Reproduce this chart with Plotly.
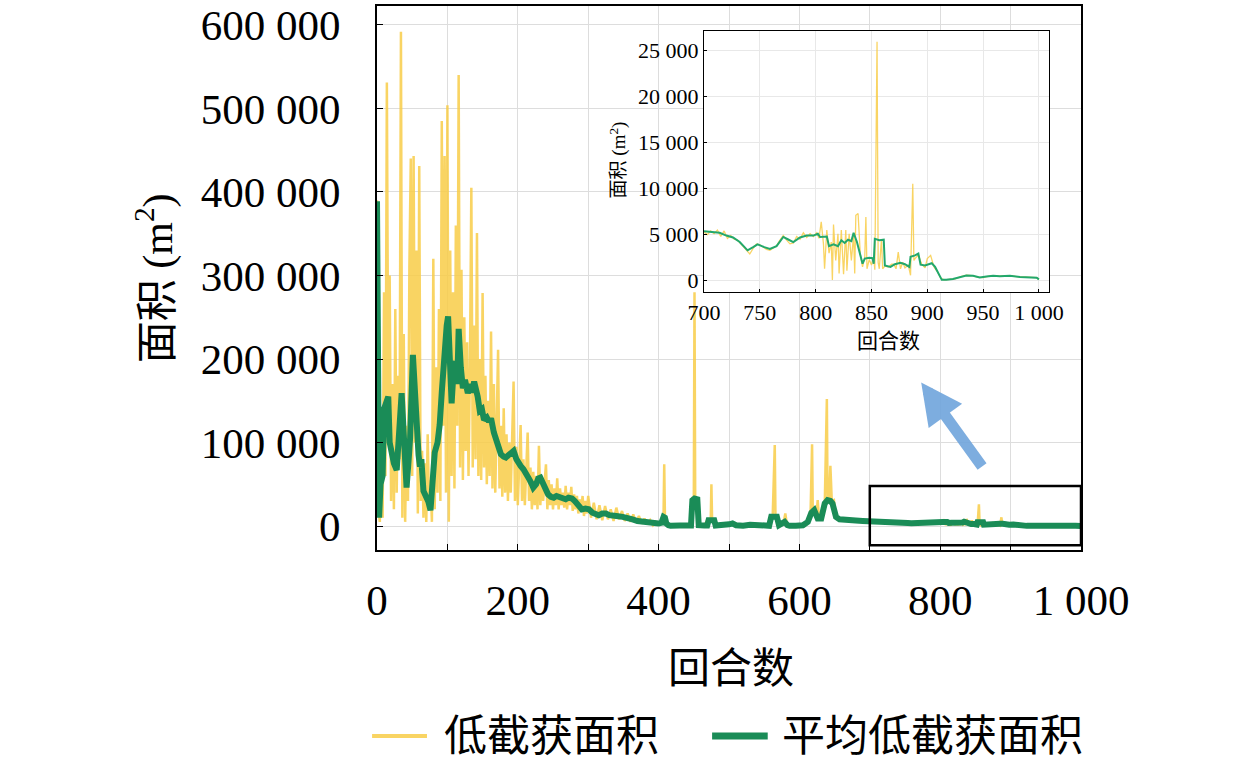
import plotly.graph_objects as go

# 低截获面积（生データ）: 回合 0-102, 2 回合ごと
low_rounds_a = list(range(0, 104, 2))
low_area_a = [390000, 20000, 5000, 120000, 10000, 280000, 60000, 531000, 150000, 300000,
              30000, 170000, 20000, 260000, 40000, 180000, 80000, 592000, 10000, 230000,
              5000, 120000, 30000, 310000, 440000, 60000, 443000, 100000, 330000, 15000,
              431000, 30000, 90000, 10000, 75000, 5000, 110000, 20000, 55000, 5000,
              320000, 20000, 190000, 40000, 260000, 30000, 485000, 120000, 443000, 40000,
              504000, 5000]

# 回合 104-300
low_rounds_b = list(range(104, 302, 2))
low_area_b = [330000, 60000, 280000, 45000, 360000, 120000, 540000, 70000, 307000, 55000,
              250000, 90000, 220000, 60000, 190000, 405000, 70000, 240000, 80000, 351000,
              60000, 200000, 55000, 279000, 70000, 180000, 50000, 150000, 60000, 233000,
              45000, 170000, 40000, 140000, 211000, 45000, 120000, 35000, 141000, 40000,
              110000, 30000, 100000, 40000, 130000, 173000, 30000, 95000, 25000, 90000,
              121000, 30000, 80000, 25000, 75000, 112000, 30000, 70000, 20000, 65000,
              25000, 60000, 20000, 96000, 25000, 60000, 30000, 55000, 74000, 20000,
              55000, 25000, 50000, 20000, 45000, 25000, 57000, 20000, 45000, 25000,
              40000, 22000, 48000, 20000, 40000, 25000, 47000, 18000, 38000, 20000,
              36000, 15000, 32000, 18000, 36000, 12000, 30000, 15000, 36000]

# 回合 304-400
low_rounds_c = list(range(304, 404, 4))
low_area_c = [10000, 28000, 8000, 25000, 7000, 24000, 8000, 20000, 6000, 22000,
              8000, 18000, 6000, 15000, 5000, 14000, 4000, 12000, 3000, 9000,
              2000, 7000, 1000, 5000, 2000]

# 回合 400-700
low_rounds_d = [402, 405, 407, 408, 409, 411, 415, 420, 430, 440,
                446, 448, 450, 451, 452, 455, 457, 465, 470, 474,
                475, 476, 479, 482, 490, 500, 505, 515, 530, 545,
                555, 559, 562, 565, 566, 569, 572, 578, 580, 582,
                590, 600, 610, 614, 616, 618, 619, 622, 624, 626,
                628, 632, 636, 639, 640, 642, 644, 646, 649, 651,
                654, 660, 670, 680, 690]
low_area_d = [4000, 6000, 12000, 74000, 10000, 3000, 1000, 500, 1000, 500,
              2000, 35000, 30000, 280000, 32000, 30000, 2000, 1000, 8000, 5000,
              50000, 7000, 6000, 1000, 500, 2000, 3000, 500, 2000, 1000,
              1000, 12000, 10000, 97000, 12000, 9000, 1000, 6000, 15000, 3000,
              500, 1000, 2000, 12000, 20000, 98000, 18000, 15000, 10000, 31000,
              8000, 12000, 25000, 152000, 30000, 28000, 72000, 30000, 31000, 15000,
              8000, 7000, 6800, 6500, 6000]

# 回合 700-1000
low_rounds_e = [700, 703, 706, 709, 712, 715, 718, 721, 724, 727,
                730, 733, 736, 739, 741, 744, 747, 750, 753, 756,
                759, 762, 765, 768, 771, 774, 777, 780, 783, 786,
                789, 792, 795, 798, 801, 803, 805, 807, 808, 810,
                812, 814, 815, 816, 818, 820, 821, 823, 825, 827,
                828, 830, 832, 834, 835, 836, 838, 840, 842, 844,
                845, 846, 848, 850, 852, 853, 855, 856, 857, 859,
                860, 862, 865, 868, 870, 872, 874, 876, 878, 880,
                883, 885, 887, 888, 889, 892, 895, 898, 900, 903,
                906, 909, 912, 915, 920, 925, 930, 935, 940, 945,
                950, 955, 960, 965, 970, 975, 980, 985, 990, 995,
                998, 1000]
low_area_e = [5300, 5000, 5400, 5100, 5500, 4800, 5400, 4600, 4900, 4500,
              4400, 4000, 3600, 3200, 2900, 3500, 4000, 3900, 3600, 3400,
              3300, 3600, 3800, 4400, 4900, 4400, 4000, 4100, 4800, 4500,
              5200, 4700, 5100, 4800, 5200, 4600, 6400, 4000, 1300, 5500,
              3000, 4200, 100, 6100, 2200, 5100, 800, 5500, 700, 5500,
              1100, 5100, 2200, 5000, 800, 7100, 7300, 2900, 1500, 2600,
              6900, 1300, 2300, 1700, 2600, 1200, 25900, 2000, 1300, 4500,
              1300, 1600, 1500, 1800, 1800, 1300, 3100, 1300, 2000, 1400,
              1700, 600, 10500, 2200, 2400, 2800, 1800, 1400, 2400, 2750,
              1500, 1000, 300, 100, 150, 200, 450, 600, 550, 400,
              350, 500, 550, 500, 550, 550, 450, 400, 350, 300,
              350, 150]

# 平均低截获面积: 回合 0-690
avg_rounds_a = [0, 3, 5, 8, 10, 13, 16, 18, 21, 24,
                28, 31, 35, 38, 42, 45, 47, 51, 54, 56,
                59, 61, 63, 66, 70, 73, 76, 79, 82, 86,
                89, 92, 96, 99, 101, 104, 106, 109, 112, 114,
                116, 119, 122, 125, 129, 132, 135, 138, 141, 143,
                146, 149, 152, 156, 159, 162, 166, 169, 172, 176,
                180, 183, 187, 191, 194, 198, 201, 204, 208, 213,
                217, 220, 222, 226, 229, 232, 235, 239, 243, 247,
                251, 255, 259, 263, 268, 272, 277, 281, 284, 288,
                291, 296, 301, 306, 311, 315, 320, 325, 330, 334,
                340, 349, 356, 363, 370, 377, 384, 391, 396, 400,
                404, 407, 409, 411, 414, 417, 430, 440, 446, 448,
                451, 455, 457, 465, 469, 471, 479, 481, 490, 500,
                505, 510, 520, 530, 543, 550, 557, 560, 568, 571,
                575, 579, 583, 586, 595, 605, 612, 617, 621, 624,
                626, 631, 636, 640, 644, 647, 650, 652, 657, 665,
                680, 690]
avg_area_a = [389000, 10000, 50000, 60000, 140000, 150000, 155000, 100000, 84000, 75000,
              67000, 120000, 159000, 110000, 46000, 80000, 105000, 205000, 160000, 100000,
              85000, 71000, 80000, 42000, 35000, 29000, 19000, 50000, 88000, 100000,
              121000, 160000, 218000, 240000, 251000, 200000, 147000, 190000, 197000, 170000,
              236000, 190000, 165000, 175000, 159000, 170000, 160000, 173000, 165000, 155000,
              138000, 140000, 127000, 130000, 125000, 129000, 112000, 105000, 95000, 86000,
              83000, 82000, 85000, 88000, 90000, 80000, 74000, 72000, 68000, 62000,
              55000, 50000, 46000, 50000, 57000, 58000, 52000, 42000, 38000, 35000,
              34000, 36000, 35000, 33000, 32000, 34000, 33000, 30000, 26000, 22000,
              20000, 21000, 20000, 16000, 14000, 13000, 15000, 15000, 13000, 12000,
              12000, 11000, 10000, 8000, 6000, 5000, 4000, 3000, 2000, 3000,
              4000, 11000, 10000, 3000, 1000, 300, 500, 300, 500, 31000,
              33000, 32000, 1000, 500, 500, 7000, 7000, 500, 500, 2000,
              3000, 1000, 300, 1500, 1000, 300, 300, 11000, 11000, 1000,
              3000, 5000, 1000, 300, 300, 1000, 5000, 16000, 19000, 12000,
              9000, 9000, 27000, 31000, 30000, 27000, 15000, 11000, 8000, 7000,
              6500, 6000]

# 平均低截获面积: 回合 700-1000
avg_rounds_b = [700, 708, 714, 720, 726, 732, 739, 744, 748, 754,
                759, 765, 771, 775, 780, 786, 792, 798, 802, 804,
                810, 812, 816, 820, 823, 826, 829, 832, 834, 837,
                840, 842, 844, 848, 851, 852, 853, 857, 861, 862,
                867, 871, 876, 880, 884, 885, 889, 892, 894, 898,
                904, 907, 913, 917, 923, 929, 935, 941, 947, 953,
                959, 965, 974, 983, 992, 998, 1000]
avg_area_b = [5360, 5250, 5200, 4900, 4700, 4200, 3300, 3650, 3950, 3650,
              3450, 3750, 4750, 4500, 4200, 4700, 4900, 4900, 5100, 4750,
              4800, 3750, 3950, 3750, 4400, 4100, 4450, 4300, 5200, 4200,
              2750, 1850, 2400, 2500, 2450, 1850, 4550, 4400, 4450, 1650,
              1500, 1800, 1950, 1800, 1500, 2600, 2750, 2950, 1750, 1650,
              1900, 1500, 100, 100, 200, 400, 580, 550, 360, 470,
              550, 500, 550, 400, 330, 330, 150]

series_names = ["低截获面积", "平均低截获面积"]

rounds_low = low_rounds_a + low_rounds_b + low_rounds_c + low_rounds_d + low_rounds_e
area_low = low_area_a + low_area_b + low_area_c + low_area_d + low_area_e
rounds_avg = avg_rounds_a + avg_rounds_b
area_avg = avg_area_a + avg_area_b

# 拡大図用 (700 回合以降)
inset_low = [(r, a) for r, a in zip(rounds_low, area_low) if r >= 700]
inset_avg = [(r, a) for r, a in zip(rounds_avg, area_avg) if r >= 700]

yellow = "rgba(248,205,72,0.85)"
green = "#1a8c57"
grid = "#dddddd"
serif = "Liberation Serif, Noto Sans CJK SC"
cjk = "Noto Sans CJK SC"

fig = go.Figure()
fig.add_trace(go.Scatter(x=rounds_low, y=area_low, mode="lines", name=series_names[0],
                         showlegend=False, line=dict(color=yellow, width=2.5)))
fig.add_trace(go.Scatter(x=rounds_avg, y=area_avg, mode="lines", name=series_names[1],
                         showlegend=False, line=dict(color=green, width=6)))
fig.add_trace(go.Scatter(x=[p[0] for p in inset_low], y=[p[1] for p in inset_low],
                         mode="lines", showlegend=False, xaxis="x2", yaxis="y2",
                         line=dict(color=yellow, width=1.3)))
fig.add_trace(go.Scatter(x=[p[0] for p in inset_avg], y=[p[1] for p in inset_avg],
                         mode="lines", showlegend=False, xaxis="x2", yaxis="y2",
                         line=dict(color="#22a86c", width=2)))

x_ticks = list(range(0, 1001, 100))
x_text = ["0", "", "200", "", "400", "", "600", "", "800", "", "1 000"]

# 凡例は手描き（線の長さを合わせるため）
leg_y = -0.342
legend_shapes = [
    dict(type="line", xref="paper", yref="paper", x0=-0.007, x1=0.071, y0=leg_y, y1=leg_y,
         line=dict(color=yellow, width=4)),
    dict(type="line", xref="paper", yref="paper", x0=0.476, x1=0.555, y0=leg_y, y1=leg_y,
         line=dict(color=green, width=7)),
]
legend_texts = [
    dict(text=series_names[0], xref="paper", yref="paper", x=0.093, y=leg_y,
         xanchor="left", yanchor="middle", showarrow=False,
         font=dict(size=43, family=serif)),
    dict(text=series_names[1], xref="paper", yref="paper", x=0.573, y=leg_y,
         xanchor="left", yanchor="middle", showarrow=False,
         font=dict(size=43, family=serif)),
]

fig.update_layout(
    width=1260, height=765,
    margin=dict(l=377, r=179, t=6, b=215),
    paper_bgcolor="white", plot_bgcolor="white",
    separators=". ",
    font=dict(family=serif, color="black"),
    showlegend=False,
    xaxis=dict(domain=[0, 1], range=[0, 1000], tickvals=x_ticks, ticktext=x_text,
               ticks="inside", ticklen=6, tickcolor="black", showline=True, linecolor="black",
               linewidth=2, mirror=True, showgrid=True, gridcolor=grid, zeroline=False,
               tickfont=dict(size=43, family=serif), ticklabelstandoff=11, automargin=False),
    yaxis=dict(domain=[0, 1], range=[-28700, 622700], tickvals=list(range(0, 600001, 100000)),
               tickformat=",d", ticks="inside", ticklen=6, tickcolor="black", showline=True,
               linecolor="black", linewidth=2, mirror=True, showgrid=True, gridcolor=grid,
               zeroline=False, tickfont=dict(size=43, family=serif), ticklabelstandoff=26,
               automargin=False),
    xaxis2=dict(domain=[0.4645, 0.9545], anchor="y2", range=[700, 1009], dtick=50,
                tickformat=",d", ticks="inside", ticklen=3, tickcolor="black", showline=True,
                linecolor="black", linewidth=1, mirror=True, showgrid=True, gridcolor="#e8e8e8",
                zeroline=False, tickfont=dict(size=22, family=serif), automargin=False),
    yaxis2=dict(domain=[0.474, 0.954], anchor="x2", range=[-1230, 27060], dtick=5000,
                tickformat=",d", ticks="inside", ticklen=3, tickcolor="black", showline=True,
                linecolor="black", linewidth=1, mirror=True, showgrid=True, gridcolor="#e8e8e8",
                zeroline=False, tickfont=dict(size=22, family=serif), automargin=False),
    annotations=[
        dict(text="回合数", xref="paper", yref="paper", x=0.503, y=-0.211,
             showarrow=False, font=dict(size=42, family=cjk), xanchor="center", yanchor="middle"),
        dict(text="面积 (m<sup>2</sup>)", xref="paper", yref="paper", x=-0.315, y=0.5,
             textangle=-90, showarrow=False, font=dict(size=42, family=serif),
             xanchor="center", yanchor="middle"),
        dict(text="回合数", xref="paper", yref="paper", x=0.726, y=0.387,
             showarrow=False, font=dict(size=21, family=cjk), xanchor="center", yanchor="middle"),
        dict(text="面积 (m<sup>2</sup>)", xref="paper", yref="paper", x=0.343, y=0.717,
             textangle=-90, showarrow=False, font=dict(size=19, family=serif),
             xanchor="center", yanchor="middle"),
        dict(text="", x=773, y=172000, ax=861, ay=69500, xref="x", yref="y",
             axref="x", ayref="y", showarrow=True, arrowhead=2, arrowsize=0.75,
             arrowwidth=11, arrowcolor="rgba(112,165,220,0.9)"),
    ] + legend_texts,
    shapes=[
        dict(type="rect", xref="x", yref="y", x0=700, x1=1000, y0=-23000, y1=48000,
             line=dict(color="black", width=2.5)),
    ] + legend_shapes,
)

fig.write_html(
    "out.html",
    config={"displayModeBar": False},
    post_script=(
        "var gd = document.getElementById('{plot_id}');"
        "gd.style.position = 'fixed'; gd.style.left = '0px'; gd.style.top = '0px';"
        "document.body.style.margin = '0px'; document.body.style.overflow = 'hidden';"
    ),
)
